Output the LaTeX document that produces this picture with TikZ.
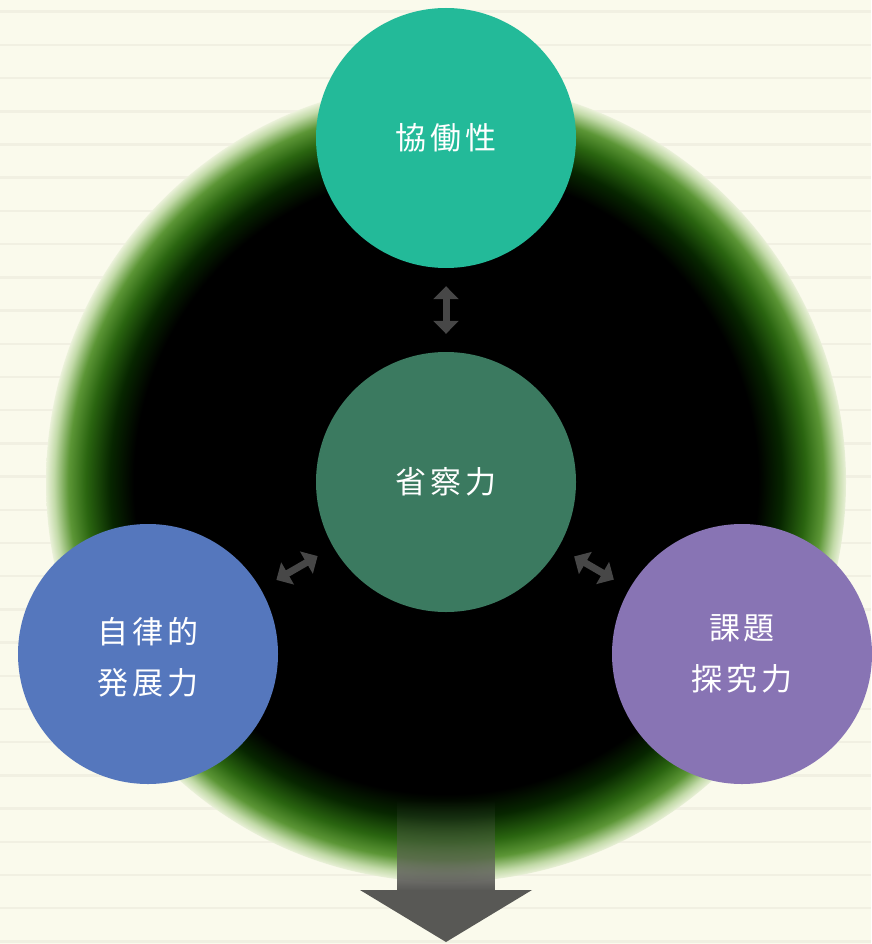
\documentclass[tikz,border=0pt]{standalone}
\usepackage{fontspec}
\newfontfamily\jp[LetterSpace=12]{Noto Sans CJK JP}
\usetikzlibrary{arrows.meta,fadings}
\definecolor{bgc}{HTML}{FAFAEC}
\definecolor{stripe}{HTML}{F1F0E2}
\definecolor{g1}{HTML}{072600}
\definecolor{g2}{HTML}{2A6510}
\definecolor{g3}{HTML}{5C9636}
\definecolor{g4}{HTML}{C2DAA8}
\definecolor{ctop}{HTML}{23BA99}
\definecolor{cmid}{HTML}{3B7A60}
\definecolor{cleft}{HTML}{5577BD}
\definecolor{cright}{HTML}{8874B4}
\definecolor{agray}{HTML}{474747}
\definecolor{bgray}{HTML}{585855}
\pgfdeclareradialshading{glow}{\pgfpoint{0bp}{0bp}}{color(0bp)=(black); color(19.5bp)=(black); color(21bp)=(g1); color(22.5bp)=(g2); color(23.6bp)=(g3); color(24.5bp)=(g4); color(25.2bp)=(bgc); color(50bp)=(bgc)}
\tikzfading[name=fadedown, top color=transparent!100, bottom color=transparent!0]
\tikzset{
  bub/.style={circle, minimum size=260pt, inner sep=0pt, text=white, font=\jp\fontsize{31}{51}\selectfont, align=center},
  dbl/.style={draw=agray, line width=7pt, {Triangle[length=13pt,width=25pt]}-{Triangle[length=13pt,width=25pt]}, shorten <=18pt, shorten >=18pt}
}
\begin{document}
\begin{tikzpicture}[x=1pt,y=-1pt]
\useasboundingbox (0,0) rectangle (871,944);
\fill[bgc] (0,0) rectangle (871,944);
\foreach \i in {0,...,28} {\fill[stripe] (0,{10.5+33.2*\i}) rectangle (871,{13+33.2*\i});}
\shade[shading=glow] (446,482) circle[radius=400];
% big arrow
\fill[bgray, path fading=fadedown] (397,800) rectangle (495,891);
\fill[bgray] (360,890) -- (532,890) -- (446,942) -- cycle;
% circles
\node[bub, fill=ctop] (top) at (446,138) {協働性};
\node[bub, fill=cmid] (mid) at (446,482) {省察力};
\node[bub, fill=cleft] (left) at (148,654) {\raisebox{-5pt}[\height][\depth]{\begin{tabular}{@{}c@{}}自律的\\発展力\end{tabular}}};
\node[bub, fill=cright] (right) at (742,654) {課題\\探究力};
\draw[dbl] (top) -- (mid);
\draw[dbl] (mid) -- (left);
\draw[dbl] (mid) -- (right);
\end{tikzpicture}
\end{document}
